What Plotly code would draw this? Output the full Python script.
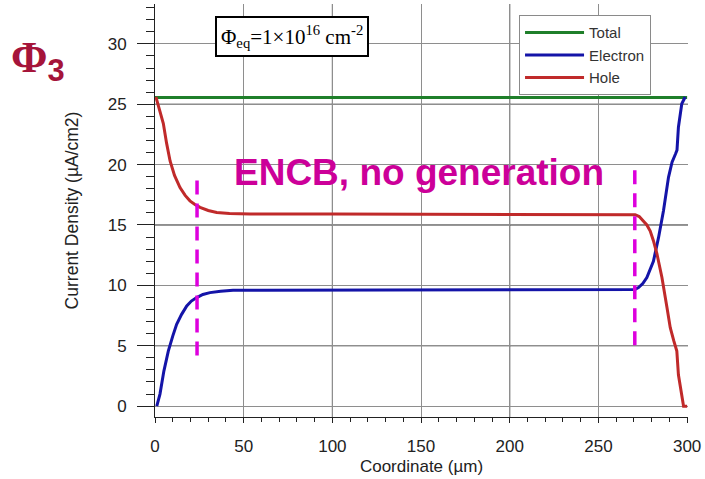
import plotly.graph_objects as go

# ---------------- data ----------------
total_x = [0, 300]
total_y = [25.55, 25.55]

electron_x = [1.0, 2.8, 5, 7.5, 10, 12.2, 15, 17.9, 20.5, 23.5, 27, 31, 37, 44, 60, 100, 150, 200, 250,
              268.8, 270.5, 272.6, 275, 277.3, 279.2, 281, 283.9, 286.7, 289.5, 291.5, 293.5, 294.3, 295.1, 297, 298.9]
electron_y = [0, 1.0, 2.9, 4.56, 5.8, 6.78, 7.6, 8.3, 8.7, 8.99, 9.25, 9.4, 9.52, 9.6, 9.6, 9.6, 9.6, 9.6, 9.6,
              9.6, 9.65, 9.82, 10.15, 10.65, 11.3, 12.0, 13.97, 16.2, 18.95, 20.2, 20.9, 21.2, 23.1, 25.04, 25.6]

hole_x = [0.5, 2.5, 4.7, 6.5, 8.5, 11, 14.1, 17, 19.7, 22.5, 25.4, 30, 34.8, 42, 53.6, 100, 150, 200, 250,
          262, 266, 270.7, 273, 275.4, 277.3, 279.2, 281, 283, 285.8, 288.6, 290.5, 292.5, 294.2, 295.1, 297, 298, 300]
hole_y = [25.6, 24.6, 23.4, 21.8, 20.3, 19.1, 18.1, 17.45, 17.0, 16.7, 16.46, 16.2, 16.04, 15.95, 15.9, 15.9, 15.9, 15.9, 15.9,
          15.9, 15.9, 15.85, 15.7, 15.35, 15.0, 14.5, 13.7, 12.6, 10.65, 8.2, 6.5, 5.4, 4.56, 2.6, 0.97, 0.0, 0.0]

# dashed boundary markers
dash_x = [23.7, 270.5]
dash_bottom = [4.2, 5.05]
dash_top = [18.9, 19.7]

# axis ticks / grid emphasis
x_ticks = [0, 50, 100, 150, 200, 250, 300]
y_ticks = [0, 5, 10, 15, 20, 25, 30]
dark_grid_y = [5, 15, 25]
dark_grid_x = [100, 200]

FONT = "Arial, Liberation Sans, sans-serif"
SERIF = "Times New Roman, Liberation Serif, serif"

fig = go.Figure()

fig.add_trace(go.Scatter(x=total_x, y=total_y, mode="lines", name="Total",
                         line=dict(color="#1f7f2a", width=3)))
fig.add_trace(go.Scatter(x=electron_x, y=electron_y, mode="lines", name="Electron",
                         line=dict(color="#1414a8", width=3)))
fig.add_trace(go.Scatter(x=hole_x, y=hole_y, mode="lines", name="Hole",
                         line=dict(color="#c02a2a", width=3)))

for xv, y0, y1 in zip(dash_x, dash_bottom, dash_top):
    fig.add_trace(go.Scatter(x=[xv, xv], y=[y0, y1], mode="lines", showlegend=False,
                             line=dict(color="#dd00dd", width=3.5, dash="14px,9px"),
                             hoverinfo="skip"))

shapes = []
for yv in dark_grid_y:
    shapes.append(dict(type="line", xref="paper", yref="y", x0=0, x1=1, y0=yv, y1=yv,
                       line=dict(color="#2a2a2a", width=1), layer="below"))
for xv in dark_grid_x:
    shapes.append(dict(type="line", xref="x", yref="paper", x0=xv, x1=xv, y0=0, y1=1,
                       line=dict(color="#2a2a2a", width=1), layer="below"))

fig.update_layout(
    width=705, height=479,
    margin=dict(l=155, r=17, t=4, b=62, autoexpand=False),
    paper_bgcolor="white", plot_bgcolor="white",
    font=dict(family=FONT, color="#222222"),
    shapes=shapes,
    showlegend=True,
    legend=dict(x=0.683, y=0.973, xanchor="left", yanchor="top",
                bgcolor="white", bordercolor="#8a8a8a", borderwidth=1,
                font=dict(family=FONT, size=15, color="#333333"),
                tracegroupgap=0, itemwidth=59),
    xaxis=dict(range=[0, 300.5], tickvals=x_ticks, showgrid=True, gridcolor="#8e8e8e", gridwidth=1,
               zeroline=False, showline=True, linecolor="#222222", linewidth=1,
               ticks="outside", ticklen=5, tickcolor="#222222",
               minor=dict(dtick=10, ticks="outside", ticklen=4, tickcolor="#222222", showgrid=False),
               tickfont=dict(size=17, family=FONT, color="#222222"), ticklabelstandoff=9,
               title=dict(text="Coordinate (µm)", font=dict(size=17, family=FONT, color="#222222"), standoff=4),
               automargin=False),
    yaxis=dict(range=[-0.9, 33.3], tickvals=y_ticks, showgrid=True, gridcolor="#8e8e8e", gridwidth=1,
               zeroline=False, showline=True, linecolor="#222222", linewidth=1,
               ticks="outside", ticklen=17, tickcolor="#222222",
               minor=dict(dtick=1, ticks="outside", ticklen=8, tickcolor="#222222", showgrid=False),
               tickfont=dict(size=17, family=FONT, color="#222222"), ticklabelstandoff=7,
               title=dict(text="Current Density (µA/cm2)", font=dict(size=17.5, family=FONT, color="#222222"), standoff=24),
               automargin=False),
    annotations=[
        dict(xref="paper", yref="paper", x=0.257, y=0.9225, xanchor="center", yanchor="middle",
             text="Φ<sub>eq</sub>=1×10<sup>16</sup> cm<sup>-2</sup>", showarrow=False,
             font=dict(family=SERIF, size=21, color="black"),
             bgcolor="white", bordercolor="black", borderwidth=2, borderpad=4),
        dict(xref="paper", yref="paper", x=0.495, y=0.593, xanchor="center", yanchor="middle",
             text="<b>ENCB, no generation</b>", showarrow=False,
             font=dict(family=FONT, size=37, color="#cc0099")),
        dict(xref="paper", yref="paper", x=-0.2195, y=0.862, xanchor="center", yanchor="middle",
             text="<b>Φ</b><sub><b><span style='font-family:Arial, Liberation Sans'>3</span></b></sub>",
             showarrow=False,
             font=dict(family=SERIF, size=44, color="#a5143a")),
    ],
)

fig.write_html("out.html")
